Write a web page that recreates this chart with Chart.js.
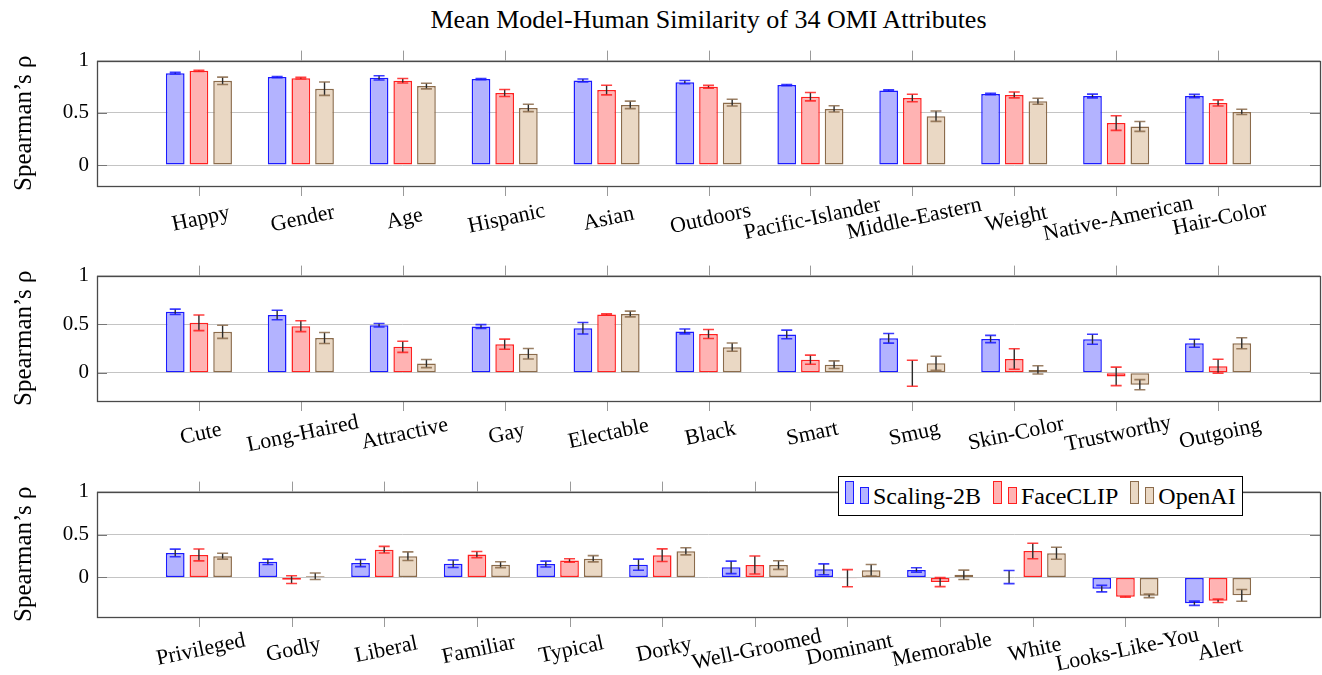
<!DOCTYPE html>
<html>
<head>
<meta charset="utf-8">
<script src="https://cdn.jsdelivr.net/npm/chart.js@4.4.1/dist/chart.umd.min.js"></script>
<style>
  body { margin: 0; background: #fff; width: 1322px; height: 675px; position: relative; overflow: hidden; font-family: "Liberation Serif", serif; }
  canvas.panel { position: absolute; left: 0; }
  #title { position: absolute; left: 97px; width: 1223px; top: 5px; text-align: center; font-size: 26px; color: #000; }
  #legend { position: absolute; left: 838px; top: 476px; height: 38px; line-height: 38px; padding: 0 6px; border: 1px solid #000; background: #fff; font-size: 24px; white-space: nowrap; color: #000; }
  #legend i { display: inline-block; width: 7px; border: 1.5px solid; margin-right: 6px; }
  #legend i.tall { height: 21px; }
  #legend i.short { height: 15px; margin-right: 4px; }
  #legend span { margin-right: 6px; }
  #legend span:last-child { margin-right: 0; }
</style>
</head>
<body>
<div id="title">Mean Model-Human Similarity of 34 OMI Attributes</div>
<canvas id="c1" class="panel" width="1322" height="215" style="top:40px"></canvas>
<canvas id="c2" class="panel" width="1322" height="216" style="top:255px"></canvas>
<canvas id="c3" class="panel" width="1322" height="204" style="top:471px"></canvas>
<div id="legend">
  <i class="tall" style="background:#b3b3ff;border-color:#1a1aff"></i><i class="short" style="background:#b3b3ff;border-color:#1a1aff"></i><span>Scaling-2B</span>
  <i class="tall" style="background:#ffb3b3;border-color:#ff2020"></i><i class="short" style="background:#ffb3b3;border-color:#ff2020"></i><span>FaceCLIP</span>
  <i class="tall" style="background:#ead8c4;border-color:#8b6b4b"></i><i class="short" style="background:#ead8c4;border-color:#8b6b4b"></i><span>OpenAI</span>
</div>
<script>
const seriesNames = ['Scaling-2B', 'FaceCLIP', 'OpenAI'];
const yTicks = [0, 0.5, 1];

// panel 1
const cats1 = ['Happy', 'Gender', 'Age', 'Hispanic', 'Asian', 'Outdoors', 'Pacific-Islander', 'Middle-Eastern', 'Weight', 'Native-American', 'Hair-Color'];
const scaling1 = [0.88, 0.842, 0.835, 0.823, 0.81, 0.794, 0.766, 0.715, 0.68, 0.661, 0.661];
const scalingErr1 = [0.008, 0.006, 0.02, 0.005, 0.014, 0.016, 0.006, 0.006, 0.007, 0.018, 0.016];
const faceclip1 = [0.902, 0.832, 0.807, 0.69, 0.718, 0.75, 0.655, 0.642, 0.671, 0.402, 0.595];
const faceclipErr1 = [0.006, 0.008, 0.022, 0.034, 0.046, 0.013, 0.04, 0.036, 0.028, 0.07, 0.029];
const openai1 = [0.807, 0.731, 0.756, 0.547, 0.576, 0.598, 0.538, 0.468, 0.611, 0.37, 0.509];
const openaiErr1 = [0.035, 0.064, 0.027, 0.035, 0.036, 0.032, 0.03, 0.05, 0.029, 0.047, 0.025];

// panel 2
const cats2 = ['Cute', 'Long-Haired', 'Attractive', 'Gay', 'Electable', 'Black', 'Smart', 'Smug', 'Skin-Color', 'Trustworthy', 'Outgoing'];
const scaling2 = [0.628, 0.595, 0.49, 0.476, 0.459, 0.426, 0.395, 0.355, 0.348, 0.345, 0.304];
const scalingErr2 = [0.027, 0.049, 0.018, 0.02, 0.059, 0.025, 0.044, 0.05, 0.037, 0.051, 0.041];
const faceclip2 = [0.514, 0.48, 0.267, 0.294, 0.601, 0.399, 0.135, -0.005, 0.142, -0.037, 0.068];
const faceclipErr2 = [0.08, 0.056, 0.057, 0.052, 0.005, 0.046, 0.047, 0.134, 0.105, 0.095, 0.071];
const openai2 = [0.422, 0.358, 0.095, 0.196, 0.605, 0.264, 0.084, 0.098, 0.03, -0.122, 0.304];
const openaiErr2 = [0.068, 0.056, 0.042, 0.054, 0.03, 0.042, 0.039, 0.073, 0.042, 0.052, 0.056];

// panel 3
const cats3 = ['Privileged', 'Godly', 'Liberal', 'Familiar', 'Typical', 'Dorky', 'Well-Groomed', 'Dominant', 'Memorable', 'White', 'Looks-Like-You', 'Alert'];
const scaling3 = [0.286, 0.183, 0.168, 0.16, 0.156, 0.149, 0.118, 0.095, 0.088, 0.005, -0.13, -0.3];
const scalingErr3 = [0.044, 0.031, 0.042, 0.044, 0.034, 0.065, 0.073, 0.063, 0.025, 0.076, 0.038, 0.025];
const faceclip3 = [0.263, -0.025, 0.324, 0.267, 0.198, 0.26, 0.145, -0.008, -0.053, 0.309, -0.225, -0.272];
const faceclipErr3 = [0.069, 0.045, 0.038, 0.036, 0.021, 0.073, 0.105, 0.1, 0.053, 0.09, 0.004, 0.02];
const openai3 = [0.248, 0.015, 0.248, 0.149, 0.218, 0.305, 0.145, 0.084, 0.031, 0.282, -0.214, -0.208];
const openaiErr3 = [0.034, 0.038, 0.05, 0.034, 0.036, 0.042, 0.05, 0.067, 0.055, 0.07, 0.02, 0.068];

const fills = ['#b3b3ff', '#ffb3b3', '#ead8c4'];
const borders = ['#1a1aff', '#ff2020', '#8b6b4b'];
const FONT = '"Liberation Serif", "Times New Roman", serif';

// error bars, plot box, tick marks and rotated category labels
const panelDecor = {
    id: 'panelDecor',
    afterDatasetsDraw(chart) {
        const ctx = chart.ctx;
        const ys = chart.scales.y;
        chart.data.datasets.forEach((ds, i) => {
            chart.getDatasetMeta(i).data.forEach((bar, j) => {
                const v = ds.data[j].y, e = ds.errors[j];
                const yHi = ys.getPixelForValue(v + e), yLo = ys.getPixelForValue(v - e);
                ctx.save();
                ctx.strokeStyle = '#2a2a2a';
                ctx.lineWidth = 1.4;
                ctx.beginPath();
                ctx.moveTo(bar.x, yHi);
                ctx.lineTo(bar.x, yLo);
                ctx.stroke();
                ctx.strokeStyle = ds.borderColor;
                ctx.globalAlpha = 0.85;
                ctx.lineWidth = 1.6;
                ctx.beginPath();
                ctx.moveTo(bar.x - 5.5, yHi); ctx.lineTo(bar.x + 5.5, yHi);
                ctx.moveTo(bar.x - 5.5, yLo); ctx.lineTo(bar.x + 5.5, yLo);
                ctx.stroke();
                ctx.restore();
            });
        });
    },
    afterDraw(chart, args, opts) {
        const ctx = chart.ctx;
        const {left, right, top, bottom} = chart.chartArea;
        const xs = chart.scales.x, ys = chart.scales.y;
        ctx.save();
        // small y tick marks inside the box
        ctx.strokeStyle = '#777';
        ctx.lineWidth = 1;
        yTicks.forEach(v => {
            const y = Math.round(ys.getPixelForValue(v)) + 0.5;
            ctx.beginPath();
            ctx.moveTo(left, y); ctx.lineTo(left + 10, y);
            ctx.moveTo(right - 10, y); ctx.lineTo(right, y);
            ctx.stroke();
        });
        // x tick marks outside, top and bottom
        ctx.strokeStyle = '#9a9a9a';
        opts.labels.forEach((c, i) => {
            const x = Math.round(xs.getPixelForValue(i)) + 0.5;
            ctx.beginPath();
            ctx.moveTo(x, top - 10); ctx.lineTo(x, top);
            ctx.moveTo(x, bottom); ctx.lineTo(x, bottom + 10);
            ctx.stroke();
        });
        // box
        ctx.strokeStyle = '#4a4a4a';
        ctx.lineWidth = 1.3;
        ctx.strokeRect(Math.round(left) + 0.5, Math.round(top) + 0.5, Math.round(right - left), Math.round(bottom - top));
        // labels
        ctx.fillStyle = '#000';
        ctx.font = '22px ' + FONT;
        ctx.textAlign = 'center';
        ctx.textBaseline = 'middle';
        opts.labels.forEach((c, i) => {
            const x = xs.getPixelForValue(i);
            ctx.save();
            ctx.translate(x + 2, bottom + 33);
            ctx.rotate(-12 * Math.PI / 180);
            ctx.fillText(c, 0, 0);
            ctx.restore();
        });
        ctx.restore();
    }
};

function makePanel(id, cats, vals, errs, yMin, xPad, catPct, padBottom) {
    new Chart(document.getElementById(id), {
        type: 'bar',
        data: {
            datasets: vals.map((arr, k) => ({
                label: seriesNames[k],
                data: arr.map((v, i) => ({x: i, y: v})),
                errors: errs[k],
                backgroundColor: fills[k],
                borderColor: borders[k],
                borderWidth: 1.5,
                borderSkipped: false,
                categoryPercentage: catPct,
                barPercentage: 0.79
            }))
        },
        options: {
            responsive: false,
            animation: false,
            devicePixelRatio: 1,
            layout: {padding: {top: 20, right: 2, bottom: padBottom, left: 0}},
            plugins: {
                legend: {display: false},
                tooltip: {enabled: false},
                panelDecor: {labels: cats}
            },
            scales: {
                x: {
                    type: 'linear',
                    display: false,
                    offset: false,
                    min: -xPad,
                    max: cats.length - 1 + xPad
                },
                y: {
                    min: yMin,
                    max: 1,
                    afterFit(s) { s.width = 97; },
                    afterBuildTicks(s) { s.ticks = yTicks.map(v => ({value: v})); },
                    border: {display: false},
                    grid: {color: '#c4c4c4', lineWidth: 1, drawTicks: false},
                    ticks: {
                        color: '#000',
                        padding: 8,
                        font: {family: FONT, size: 21},
                        callback: v => String(v)
                    },
                    title: {
                        display: true,
                        text: 'Spearman\u2019s \u03c1',
                        color: '#000',
                        padding: {top: 9, bottom: 0},
                        font: {family: FONT, size: 25}
                    }
                }
            }
        },
        plugins: [panelDecor]
    });
}

makePanel('c1', cats1, [scaling1, faceclip1, openai1], [scalingErr1, faceclipErr1, openaiErr1], -0.2, 1, 0.697, 69);
makePanel('c2', cats2, [scaling2, faceclip2, openai2], [scalingErr2, faceclipErr2, openaiErr2], -0.29, 1, 0.697, 70);
makePanel('c3', cats3, [scaling3, faceclip3, openai3], [scalingErr3, faceclipErr3, openaiErr3], -0.46, 1.1, 0.767, 58);
</script>
</body>
</html>
